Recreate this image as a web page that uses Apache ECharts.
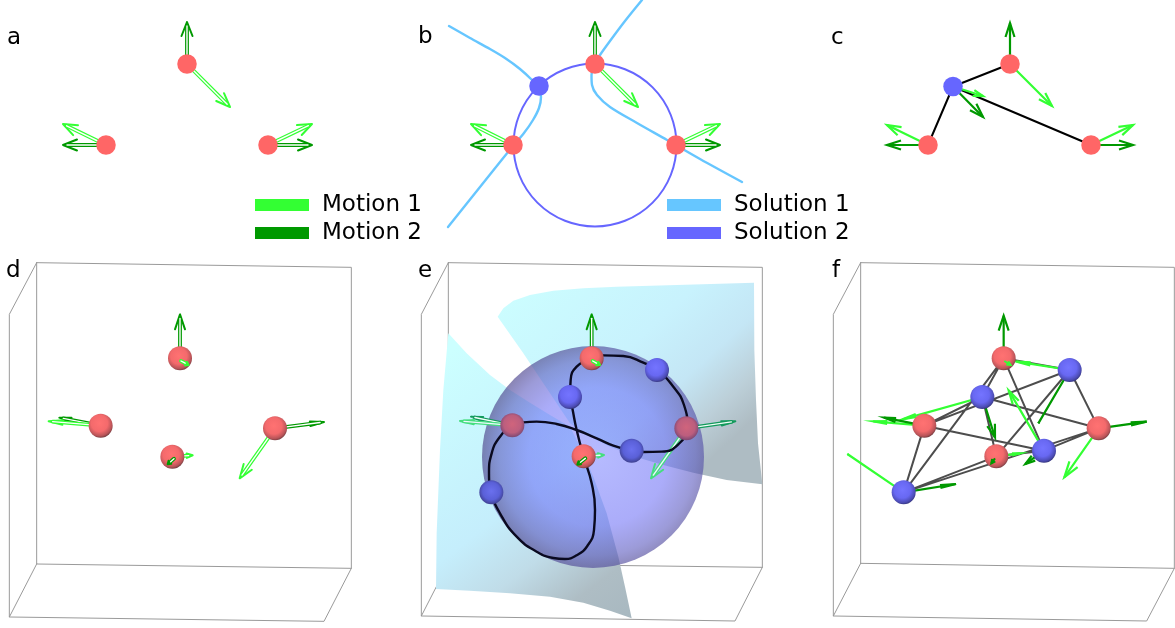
<!DOCTYPE html>
<html><head><meta charset="utf-8">
<style>html,body{margin:0;padding:0;background:#fff}#c{width:1175px;height:628px}</style>
<script src="https://cdn.jsdelivr.net/npm/echarts@6/dist/echarts.min.js"></script>
</head><body><div id="c"></div>
<script>
const FONT='"DejaVu Sans"';
const RED='#ff6666',BLUE='#6666ff',L='#33ff33',D='#009900',SKY='#66c6ff';
// offsets for readings taken in each panel's own crop (crop px /3 + origin)
const pD=p=>[p[0]/3,250+p[1]/3], pE=p=>[410+p[0]/3,250+p[1]/3], pF=p=>[820+p[0]/3,250+p[1]/3];

const panelLabels=[[7,38,'a'],[418,37,'b'],[831,38,'c'],[6,271,'d'],[418,271,'e'],[832,271,'f']];

// flat panels. Arrows: x0,y0,x1,y1,[head half width],[head length]
const aNodes=[[187,64],[106,145],[268,145]];
const aLight=[[187,64,230,107],[106,145,63,124],[268,145,312,124]];
const aDark=[[187,64,187,22],[106,145,63,145],[268,145,312,145]];
const bNodes=[[595,64],[513,145],[676,145]];
const bBlue=[[539,86]];
const bCircle=[[595,145]];
const bLight=[[595,64,638,107],[513,145,471,124],[676,145,720,124]];
const bDark=[[595,64,595,22],[513,145,471,145],[676,145,720,145]];
const sol1a=[[449,26],[470,38],[490,49],[505,58],[520,69],[532,80],[539,88],[541,97],[539,108],[533,120],[524,133],[513,146],[500,162],[480,187],[460,212],[448,227]];
const sol1b=[[642,0],[625,21],[610,41],[600,55],[594,65],[591.5,75],[592,85],[597,95],[610,107],[637,123],[667,140],[700,159],[742,182]];
const cNodes=[[1010,64],[928,145],[1091,145]];
const cBlue=[[953,86.5]];
const cLight=[[1010,64,1052,106],[928,145,887,125],[1091,145,1133,125],[953,86.5,983,96,3,10]];
const cDark=[[1010,64,1010,23],[928,145,887,145],[1091,145,1133,145],[953,86.5,983,117]];

// boxes, crop coordinates
const boxD=[[[110,38],[1054,52],[1054,955],[110,942],[110,38]],[[110,38],[28,193],[28,1101],[110,942]],[[28,1101],[972,1114],[1054,955]]];
const boxE=[[[115,38],[1057,52],[1057,952],[115,940],[115,38]],[[115,38],[34,193],[34,1098],[115,940]],[[34,1098],[975,1113],[1057,952]]];
const boxF=[[[122,38],[1063,52],[1063,955],[122,940],[122,38]],[[122,38],[40,193],[40,1098],[122,940]],[[40,1098],[980,1113],[1063,955]]];

// panel d
const dNodes=[[540,325],[302,527],[825,535],[517,620]];
const dLight=[[302,527,146,514,2.2,14],[825,535,719,685,5,14],[517,620,578,616,2.2,6]];
const dDark=[[540,325,540,193,5,15],[302,527,178,503,2.2,12],[825,535,972,516,2.2,14]];
const dSmallLight=[[543,333,566,345,2,3]];
const dSmallDark=[[522,626,503,643,2,3]];

// panel e
const surfaceA=[[263,200],[280,175],[310,152],[360,135],[430,122],[520,115],[620,110],[800,105],[1032,98],[1033,300],[1038,450],[1044,580],[1057,703],[950,690],[850,668],[760,645],[680,622],[600,590],[530,555],[480,520],[440,460],[400,400],[340,310],[263,200]];
const surfaceB=[[115,250],[170,310],[240,375],[300,420],[360,458],[420,495],[480,530],[515,600],[550,680],[590,790],[625,920],[645,1010],[665,1105],[600,1082],[520,1058],[420,1040],[300,1030],[180,1022],[78,1017],[80,850],[90,600],[100,420],[115,250]];
const eSphere=[[593,457]];
const eCurve=[[545,325],[580,316],[640,318],[700,338],[741,360],[790,410],[822,465],[832,530],[805,583],[755,605],[700,606],[665,602],[610,587],[560,565],[500,540],[440,522],[380,515],[340,517],[307,526],[270,560],[245,610],[237,670],[244,727],[270,790],[320,860],[380,905],[430,924],[465,927],[500,916],[532,888],[552,840],[555,780],[545,700],[521,620],[500,540],[487,475],[480,441],[482,390],[500,350],[545,325]];
const eRedFront=[[545,325],[521,619]];
const eRedBack=[[307,526],[829,535]];
const eBlueFront=[[741,360],[480,441]];
const eBlueBack=[[665,602],[244,727]];
const eLight=[[307,526,150,513,2.2,14],[829,535,723,685,5,14],[521,619,582,615,2.2,6]];
const eDark=[[307,526,183,500,2.2,12],[829,535,976,514,2.2,14]];
const eDarkTop=[[545,325,545,193,5,15]];
const eSmallLight=[[548,333,570,345,2,3]];
const eSmallDark=[[526,625,502,644,2,3]];

// panel f
const fRed=[[551,325],[313,527],[836,535],[529,619]];
const fBlue=[[749,360],[487,441],[672,602],[251,727]];
const fLight=[[836,535,733,682,5,16],[313,527,160,514,1.5,14],[749,360,590,335,1.5,14],[487,441,248,508,1.5,14],[672,602,566,421,3.5,14],[251,727,82,612,0,1],[529,619,600,610,1,8]];
const fDark=[[551,325,551,197,5,15],[313,527,192,503,2,12],[836,535,980,515,1.5,16],[749,360,655,520,0,1],[487,441,525,562,4,13],[672,602,616,642,3,10],[251,727,408,702,1.5,16]];
const fSmallLight=[[553,333,572,345,2,4]];
const fSmallDark=[[525,625,514,640,2,4]];

const mapXY=(f)=>a=>{const s=f([a[0],a[1]]),e=f([a[2],a[3]]);return [s[0],s[1],e[0],e[1],a[4],a[5]];};

function unit(a){const dx=a[2]-a[0],dy=a[3]-a[1],n=Math.hypot(dx,dy)||1;return [dx/n,dy/n];}
function stems(list,trim){
  const out=[];
  list.forEach(a=>{const [ux,uy]=unit(a);out.push([a[0],a[1]],[a[2]-ux*trim,a[3]-uy*trim],['-','-']);});
  return out;
}
function heads(list,defHw,defLen){
  const out=[];
  list.forEach(a=>{
    const [ux,uy]=unit(a),hw=a[4]===undefined?defHw:a[4],len=a[5]===undefined?defLen:a[5];
    const bx=a[2]-ux*len,by=a[3]-uy*len;
    out.push([bx-uy*hw,by+ux*hw],[a[2],a[3]],[bx+uy*hw,by-ux*hw],['-','-']);
  });
  return out;
}
function polyLines(list){const o=[];list.forEach(l=>{l.forEach(p=>o.push(p));o.push(['-','-']);});return o;}

let z=1;const series=[];
function line(name,data,color,width,extra){
  series.push(Object.assign({type:'line',name,data,showSymbol:false,symbol:'none',silent:true,z:z++,clip:false,
    itemStyle:{color},lineStyle:{color,width,cap:'round',join:'round'}},extra||{}));
}
function hollow(name,list,color,core){
  line(name,heads(list,5.5,14),color,2);
  const s=stems(list,4);
  line(name,s,color,3.8);
  line(name+' core',s,core||'#ffffff',1.4);
}
function thin(name,list,color,w){
  line(name,stems(list,0),color,w,{lineStyle:{color,width:w,cap:'butt',join:'miter'}});
  line(name,heads(list,4.5,14),color,w,{lineStyle:{color,width:w,cap:'butt',join:'miter'}});
}
const rg=(stops,x,y,r)=>new echarts.graphic.RadialGradient(x,y,r,stops.map((c,i)=>({offset:c[0],color:c[1]})));
const redBall=rg([[0,'#ff7272'],[.55,'#f46a6c'],[.85,'#b85458'],[1,'#6e3a3e']],.45,.4,.62);
const blueBall=rg([[0,'#7474ff'],[.55,'#6868f2'],[.85,'#4c4cb4'],[1,'#343478']],.45,.4,.62);
const redDim=rg([[0,'#d0647c'],[.6,'#bc5e7e'],[1,'#6a4270']],.5,.45,.6);
const blueDim=rg([[0,'#6a70ee'],[.6,'#5a60d8'],[1,'#383a80']],.5,.45,.6);
function dots(name,data,color,size,extra){
  const e=extra||{};
  series.push(Object.assign({type:'scatter',name,data,symbol:'circle',symbolSize:size,silent:true,z:z++,clip:false},e,
    {itemStyle:Object.assign({color,opacity:1},e.itemStyle||{})}));
}
function poly(name,pts,fill){
  series.push({type:'custom',name,data:pts,silent:true,z:z++,clip:false,encode:{x:0,y:1},
    renderItem(params,api){
      if(params.dataIndex!==0) return;
      return {type:'polygon',shape:{points:pts.map(p=>api.coord(p))},style:{fill}};
    }});
}

// boxes
line('Box',polyLines([...boxD.map(l=>l.map(pD)),...boxE.map(l=>l.map(pE)),...boxF.map(l=>l.map(pF))]),'#9a9a9a',1);

// panel a
hollow('Motion 2',aDark,D);hollow('Motion 1',aLight,L);
dots('Atoms',aNodes,RED,19.5);
// panel b
line('Solution 1',sol1a,SKY,2.4,{smooth:.3});line('Solution 1',sol1b,SKY,2.4,{smooth:.3});
dots('Solution 2',bCircle,'transparent',163,{itemStyle:{color:'transparent',borderColor:BLUE,borderWidth:2}});
hollow('Motion 2',bDark,D);hollow('Motion 1',bLight,L);
dots('Atoms',bNodes,RED,19.5);dots('Solution 2 atom',bBlue,BLUE,19.5);
// panel c
line('Bonds',polyLines(cNodes.map(p=>[cBlue[0],p])),'#000',2);
thin('Motion 1',cLight,L,2.2);thin('Motion 2',cDark,D,2.2);
dots('Atoms',cNodes,RED,19.5);dots('Solution 2 atom',cBlue,BLUE,19.5);

// panel d
hollow('Motion 2',dDark.map(mapXY(pD)),D);hollow('Motion 1',dLight.map(mapXY(pD)),L);
dots('Atoms',dNodes.map(pD),redBall,24);
hollow('Motion 1',dSmallLight.map(mapXY(pD)),L);hollow('Motion 2',dSmallDark.map(mapXY(pD)),D);

// panel e
poly('Surface',surfaceA.map(pE),new echarts.graphic.LinearGradient(0,0,.7,1,[{offset:0,color:'#ccffff'},{offset:.5,color:'#c8f2fd'},{offset:.72,color:'#c4e6f5'},{offset:.88,color:'#bccfd8'},{offset:1,color:'#aebcc3'}]));
poly('Surface',surfaceB.map(pE),new echarts.graphic.LinearGradient(0,.1,1,1,[{offset:0,color:'#ccffff'},{offset:.5,color:'#c5eefc'},{offset:.68,color:'#c0dce8'},{offset:.85,color:'#aebdc4'},{offset:1,color:'#a8b8c0'}]));
hollow('Motion 2',eDarkTop.map(mapXY(pE)),D);
dots('Sphere',eSphere,rg([[0,'rgba(102,112,255,.48)'],[.6,'rgba(100,102,245,.54)'],[.85,'rgba(90,88,190,.6)'],[1,'rgba(80,72,140,.68)']],.52,.5,.52),222);
hollow('Motion 2',eDark.map(mapXY(pE)),'#139a5c','#f0fff8');hollow('Motion 1',eLight.map(mapXY(pE)),'#44de7e','#eef8ff');
line('Curve',eCurve.map(pE),'#0a0a20',2.4,{smooth:.5});
dots('Atoms',eRedBack.map(pE),redDim,24);dots('Solution 2 atom',eBlueBack.map(pE),blueDim,24);
dots('Atoms',eRedFront.map(pE),redBall,24);dots('Solution 2 atom',eBlueFront.map(pE),blueBall,24);
hollow('Motion 1',eSmallLight.map(mapXY(pE)),L);hollow('Motion 2',eSmallDark.map(mapXY(pE)),D);

// panel f
const fEdges=[];fBlue.forEach(b=>fRed.forEach(r=>fEdges.push([pF(b),pF(r)])));
line('Bonds',polyLines(fEdges),'#4d4d4d',2);
thin('Motion 1',fLight.map(mapXY(pF)),L,2.2);thin('Motion 2',fDark.map(mapXY(pF)),D,2.2);
dots('Atoms',fRed.map(pF),redBall,24);dots('Solution 2 atom',fBlue.map(pF),blueBall,24);
thin('Motion 1',fSmallLight.map(mapXY(pF)),L,2);thin('Motion 2',fSmallDark.map(mapXY(pF)),D,2);

// labels
series.push({type:'scatter',name:'Panel labels',data:panelLabels,symbolSize:0,silent:true,z:z++,clip:false,encode:{x:0,y:1},
  itemStyle:{opacity:1},
  label:{show:true,position:'right',distance:0,color:'#000',opacity:1,fontFamily:FONT,fontSize:23,formatter:p=>p.value[2]}});

const legendBase={orient:'vertical',icon:'rect',itemWidth:54,itemHeight:12,itemGap:5,padding:0,selectedMode:false,
  textStyle:{fontFamily:FONT,fontSize:23,color:'#000',padding:[0,0,0,8]}};
const chart=echarts.init(document.getElementById('c'),null,{renderer:'canvas'});
chart.setOption({
  animation:false,backgroundColor:'#fff',
  grid:{left:0,right:0,top:0,bottom:0},
  xAxis:{type:'value',min:0,max:1175,show:false},
  yAxis:{type:'value',min:0,max:628,inverse:true,show:false},
  legend:[
    Object.assign({},legendBase,{left:255,top:193.5,data:[{name:'Motion 1',itemStyle:{color:L,opacity:1,borderWidth:0}},{name:'Motion 2',itemStyle:{color:D,opacity:1,borderWidth:0}}]}),
    Object.assign({},legendBase,{left:667,top:193.5,data:[{name:'Solution 1',itemStyle:{color:SKY,opacity:1,borderWidth:0}},{name:'Solution 2',itemStyle:{color:BLUE,opacity:1,borderWidth:0}}]})
  ],
  series
});
</script></body></html>
